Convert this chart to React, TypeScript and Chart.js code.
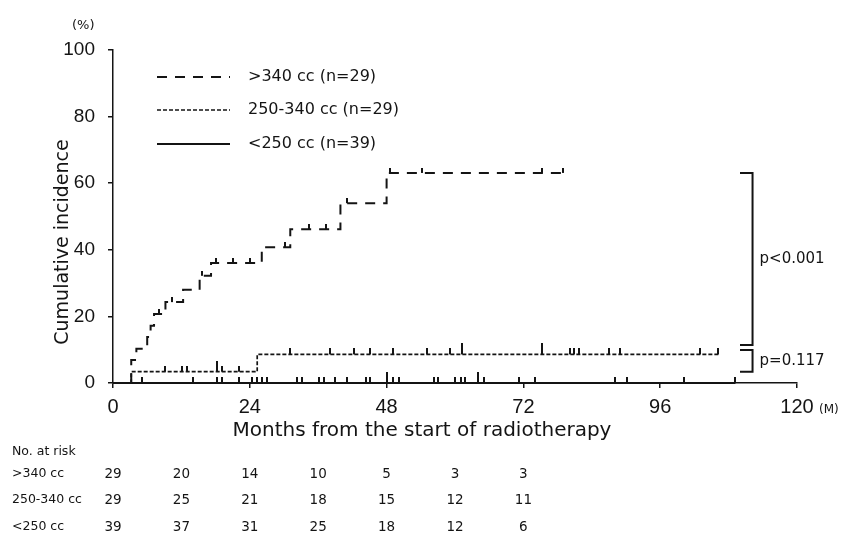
import React, { useEffect, useRef } from "react";
import { Chart, registerables } from "chart.js";

Chart.register(...registerables);

// ---------- data ----------
const groupLabels = [">340 cc (n=29)", "250-340 cc (n=29)", "<250 cc (n=39)"];
const riskLabels = [">340 cc", "250-340 cc", "<250 cc"];

// >340 cc : step times (months) and cumulative incidence (%) after each step
const highTimes = [0, 3.2, 4.1, 6.0, 6.6, 7.2, 9.2, 12.3, 15.2, 17.2, 26.1, 31.1, 39.9, 48.0, 79.0];
const highValues = [0, 6.9, 10.3, 13.8, 17.2, 20.7, 24.3, 28.0, 32.2, 36.0, 40.8, 46.2, 54.0, 63.1, 63.1];
const highCensor = [8.1, 10.3, 15.6, 18.1, 21.0, 24.0, 30.2, 34.3, 37.3, 41.0, 48.6, 54.2, 75.3, 79.0];
const highCensorTall: number[] = [];

// 250-340 cc
const midTimes = [0, 3.2, 25.3, 106.2];
const midValues = [0, 3.4, 8.6, 8.6];
const midCensor = [9.2, 12.1, 13.0, 19.1, 22.1, 31.1, 38.1, 42.2, 45.1, 49.2, 55.1, 59.2, 80.2, 80.8, 81.7, 87.0, 89.0, 103.0, 106.2];
const midCensorTall = [18.2, 61.2, 75.3];

// <250 cc
const lowTimes = [0, 109.2];
const lowValues = [0, 0];
const lowCensor = [5.1, 14.1, 18.2, 19.1, 22.1, 24.4, 25.3, 26.1, 27.0, 32.3, 33.2, 36.1, 37.0, 39.0, 41.0, 44.3, 45.1, 49.2, 50.1, 56.3, 57.1, 60.0, 61.0, 61.8, 65.0, 71.2, 74.1, 88.1, 90.2, 100.1, 109.2];
const lowCensorTall = [48.1, 64.1];

const xTickValues = [0, 24, 48, 72, 96, 120];

// numbers at risk
const riskTimes = [0, 12, 24, 36, 48, 60, 72];
const riskHigh = [29, 20, 14, 10, 5, 3, 3];
const riskMid = [29, 25, 21, 18, 15, 12, 11];
const riskLow = [39, 37, 31, 25, 18, 12, 6];

// p-value brackets (values in %)
const pLabels = ["p<0.001", "p=0.117"];
const pFrom = [63.1, 9.9];
const pTo = [11.4, 3.4];
const pBracketMonths = [110, 112.2];

// ---------- styles ----------
const INK = "#141414";
const SANS = "'DejaVu Sans', 'Noto Sans', sans-serif";
const NUM = "'Liberation Sans', Arial, sans-serif";

function valueAt(times: number[], values: number[], t: number) {
  let v = values[0];
  for (let i = 0; i < times.length; i++) if (times[i] <= t) v = values[i];
  return v;
}

function makeTick(h: number) {
  const c = document.createElement("canvas");
  c.width = 2;
  c.height = h * 2;
  const g = c.getContext("2d")!;
  g.fillStyle = INK;
  g.fillRect(0, 0, 2, h);
  return c;
}

function stepData(times: number[], values: number[]) {
  return times.map((t, i) => ({ x: t, y: values[i] }));
}

function censorData(times: number[], values: number[], cens: number[]) {
  return cens.map((t) => ({ x: t, y: valueAt(times, values, t) }));
}

const annotPlugin = {
  id: "annot",
  afterDraw(chart: any) {
    const { ctx } = chart;
    const xs = chart.scales.x;
    const ys = chart.scales.y;
    const ds = chart.data.datasets;
    ctx.save();
    ctx.fillStyle = INK;
    ctx.strokeStyle = INK;

    // legend
    const rowsY = [77, 110, 144];
    for (let i = 0; i < 3; i++) {
      const d = ds[i];
      ctx.save();
      ctx.lineWidth = d.borderWidth;
      ctx.setLineDash(d.borderDash || []);
      ctx.beginPath();
      ctx.moveTo(157, rowsY[i]);
      ctx.lineTo(230, rowsY[i]);
      ctx.stroke();
      ctx.restore();
      ctx.font = `16px ${SANS}`;
      ctx.textAlign = "left";
      ctx.textBaseline = "middle";
      ctx.fillText(groupLabels[i], 248, rowsY[i]);
    }

    // y title
    ctx.save();
    ctx.translate(63, 242);
    ctx.rotate(-Math.PI / 2);
    ctx.font = `19px ${SANS}`;
    ctx.textAlign = "center";
    ctx.textBaseline = "middle";
    ctx.fillText("Cumulative incidence", 0, 0);
    ctx.restore();

    // x title
    ctx.font = `20px ${SANS}`;
    ctx.textAlign = "center";
    ctx.textBaseline = "middle";
    ctx.fillText("Months from the start of radiotherapy", 422, 431);

    // units
    ctx.font = `13px ${SANS}`;
    ctx.textAlign = "left";
    ctx.fillText("(%)", 72, 26);
    ctx.font = `12px ${SANS}`;
    ctx.fillText("(M)", 819, 410);

    // brackets
    const bx1 = xs.getPixelForValue(pBracketMonths[0]);
    const bx2 = xs.getPixelForValue(pBracketMonths[1]);
    for (let i = 0; i < pLabels.length; i++) {
      const y1 = ys.getPixelForValue(pFrom[i]);
      const y2 = ys.getPixelForValue(pTo[i]);
      ctx.lineWidth = 2;
      ctx.beginPath();
      ctx.moveTo(bx1, y1);
      ctx.lineTo(bx2, y1);
      ctx.lineTo(bx2, y2);
      ctx.lineTo(bx1, y2);
      ctx.stroke();
      ctx.font = `15px ${SANS}`;
      ctx.textAlign = "left";
      ctx.textBaseline = "middle";
      ctx.fillText(pLabels[i], bx2 + 7, (y1 + y2) / 2);
    }

    // numbers at risk
    ctx.textBaseline = "middle";
    ctx.textAlign = "left";
    ctx.font = `12.5px ${SANS}`;
    ctx.fillText("No. at risk", 12, 452);
    const tableRows = [riskHigh, riskMid, riskLow];
    const tableY = [474, 500, 527];
    for (let r = 0; r < 3; r++) {
      ctx.textAlign = "left";
      ctx.font = `12.5px ${SANS}`;
      ctx.fillText(riskLabels[r], 12, tableY[r]);
      ctx.textAlign = "center";
      ctx.font = `13.5px ${SANS}`;
      for (let j = 0; j < riskTimes.length; j++) {
        ctx.fillText(String(tableRows[r][j]), xs.getPixelForValue(riskTimes[j]), tableY[r]);
      }
    }
    ctx.restore();
  },
};

export default function App() {
  const ref = useRef<HTMLCanvasElement>(null);

  useEffect(() => {
    document.body.style.margin = "0";
    const tick = makeTick(6);
    const tickTall = makeTick(11);
    const tickSmall = makeTick(5);

    const lineBase = {
      type: "line" as const,
      borderColor: INK,
      pointRadius: 0,
      stepped: true,
      fill: false,
      clip: false as any,
    };
    const censorBase = (style: HTMLCanvasElement) => ({
      type: "line" as const,
      showLine: false,
      pointStyle: style,
      pointRadius: 3,
      borderColor: INK,
      backgroundColor: INK,
      clip: false as any,
    });

    const chart = new Chart(ref.current!, {
      type: "line",
      data: {
        datasets: [
          { ...lineBase, label: groupLabels[0], data: stepData(highTimes, highValues), borderWidth: 2, borderDash: [10, 8] },
          { ...lineBase, label: groupLabels[1], data: stepData(midTimes, midValues), borderWidth: 1.7, borderDash: [4, 2] },
          { ...lineBase, label: groupLabels[2], data: stepData(lowTimes, lowValues), borderWidth: 1.8, borderDash: [] },
          { ...censorBase(tickSmall), data: censorData(highTimes, highValues, highCensor) },
          { ...censorBase(tickTall), data: censorData(highTimes, highValues, highCensorTall) },
          { ...censorBase(tick), data: censorData(midTimes, midValues, midCensor) },
          { ...censorBase(tickTall), data: censorData(midTimes, midValues, midCensorTall) },
          { ...censorBase(tick), data: censorData(lowTimes, lowValues, lowCensor) },
          { ...censorBase(tickTall), data: censorData(lowTimes, lowValues, lowCensorTall) },
        ] as any,
      },
      options: {
        responsive: false,
        animation: false,
        events: [],
        layout: { padding: { left: 0, top: 50, right: 57, bottom: 114 } },
        plugins: { legend: { display: false }, tooltip: { enabled: false } },
        scales: {
          x: {
            type: "linear",
            min: 0,
            max: 120,
            afterBuildTicks: (s: any) => {
              s.ticks = xTickValues.map((v) => ({ value: v }));
            },
            afterFit: (s: any) => {
              s.height = 40;
            },
            grid: { display: true, drawOnChartArea: false, drawTicks: true, tickLength: 5, color: INK, lineWidth: 1.5 },
            border: { display: true, color: INK, width: 1.5 },
            ticks: { color: INK, font: { family: NUM, size: 20 }, padding: 7, maxRotation: 0, autoSkip: false },
          },
          y: {
            type: "linear",
            min: 0,
            max: 100,
            afterFit: (s: any) => {
              s.width = 113;
            },
            grid: { display: true, drawOnChartArea: false, drawTicks: true, tickLength: 5, color: INK, lineWidth: 1.5 },
            border: { display: true, color: INK, width: 1.5 },
            ticks: { stepSize: 20, color: INK, font: { family: NUM, size: 19 }, padding: 13 },
          },
        },
      },
      plugins: [annotPlugin],
    });
    return () => chart.destroy();
  }, []);

  return <canvas ref={ref} width={854} height={537} style={{ display: "block" }} />;
}
